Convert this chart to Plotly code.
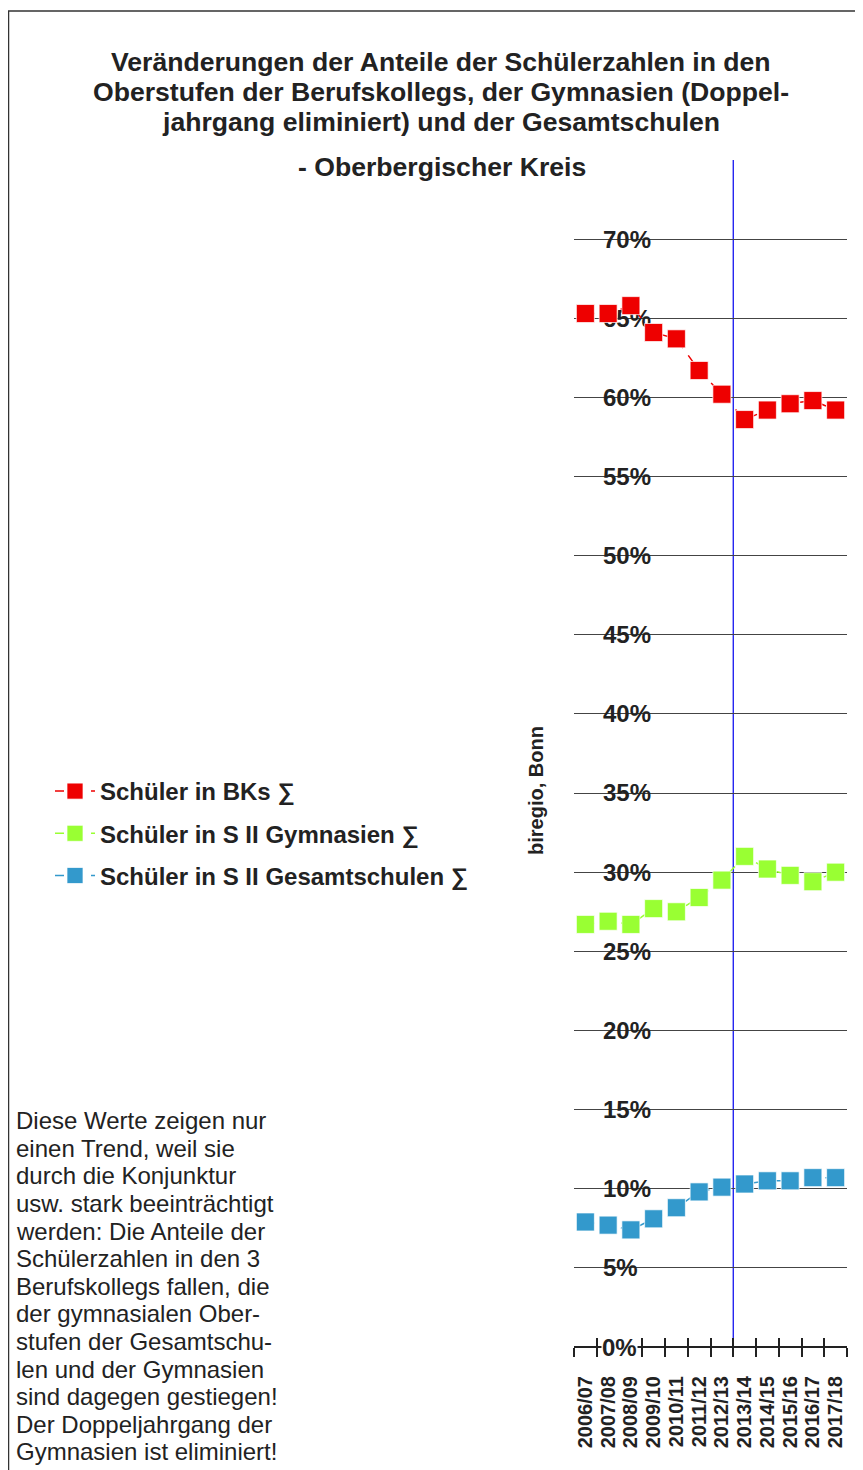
import plotly.graph_objects as go

# ---------------- data ----------------
categories = ["2006/07", "2007/08", "2008/09", "2009/10", "2010/11", "2011/12",
              "2012/13", "2013/14", "2014/15", "2015/16", "2016/17", "2017/18"]
bk_share = [65.3, 65.3, 65.8, 64.1, 63.7, 61.7, 60.2, 58.6, 59.2, 59.6, 59.8, 59.2]
gym_share = [26.7, 26.9, 26.7, 27.7, 27.5, 28.4, 29.5, 31.0, 30.2, 29.8, 29.4, 30.0]
ges_share = [7.9, 7.7, 7.4, 8.1, 8.8, 9.8, 10.1, 10.3, 10.5, 10.5, 10.7, 10.7]
series_names = ["Schüler in BKs \u2211", "Schüler in S II Gymnasien \u2211",
                "Schüler in S II Gesamtschulen \u2211"]
series_colors = ["#EE0000", "#99FF33", "#3399CC"]
y_ticks = [0, 5, 10, 15, 20, 25, 30, 35, 40, 45, 50, 55, 60, 65, 70]
y_tick_labels = [f"{v}%" for v in y_ticks]
title_lines = ["Veränderungen der Anteile der Schülerzahlen in den",
               "Oberstufen der Berufskollegs, der Gymnasien (Doppel-",
               "jahrgang eliminiert) und der Gesamtschulen"]
subtitle = "- Oberbergischer Kreis"
source_label = "biregio, Bonn"
marker_year = 6.5  # boundary between 2012/13 and 2013/14
note_lines = ["Diese Werte zeigen nur", "einen Trend, weil sie", "durch die Konjunktur",
              "usw. stark beeinträchtigt", "werden: Die Anteile der",
              "Schülerzahlen in den 3", "Berufskollegs fallen, die",
              "der gymnasialen Ober-", "stufen der Gesamtschu-", "len und der Gymnasien",
              "sind dagegen gestiegen!", "Der Doppeljahrgang der", "Gymnasien ist eliminiert!"]

# ---------------- layout geometry (page pixels) ----------------
W, H = 863, 1470
OFF = 8  # default body margin of the html page
L, R, T, B = 574, 847, 160, 1347
FONT = "Liberation Sans, Arial, sans-serif"
TXT = "#222222"
FIGSP = "\u2007"  # figure space keeps the labels left aligned


def px_x(x):
    return (x - L) / (R - L)


def px_y(y):
    return (B - y) / (B - T)


fig = go.Figure()
for name, vals, col in zip(series_names, [bk_share, gym_share, ges_share], series_colors):
    fig.add_trace(go.Scatter(
        x=categories, y=vals, name=name, mode="lines+markers",
        line=dict(color=col, width=1.5, dash="dash"),
        marker=dict(symbol="square", size=18, color=col,
                    line=dict(width=1, color="rgba(255,255,255,0.7)")),
        legendgroup=name,
    ))
# invisible trace carrying the overlay axis (inside tick marks)
fig.add_trace(go.Scatter(x=categories, y=bk_share, xaxis="x2", mode="markers",
                         marker=dict(opacity=0), showlegend=False, hoverinfo="skip"))

shapes = []
annotations = []

# padded y labels (right aligned by plotly, so pad the short ones)
max_len = max(len(s) for s in y_tick_labels)
y_text = [s + FIGSP * (max_len - len(s)) for s in y_tick_labels]

# white boxes behind y tick labels (between gridlines and traces)
for v, lab in zip(y_ticks, y_tick_labels):
    if v == 0:
        continue
    w = 13.4 * (len(lab) - 1) + 21.5
    shapes.append(dict(type="rect", layer="between", xref="paper", yref="y",
                       x0=px_x(600), x1=px_x(601 + w + 1), y0=v - 0.25, y1=v + 0.25,
                       fillcolor="white", line=dict(width=0)))

# 0% label on top of the axis
annotations.append(dict(text=y_tick_labels[0], xref="paper", yref="y", x=px_x(601), y=0,
                        xanchor="left", yanchor="middle", showarrow=False,
                        bgcolor="white", borderpad=0,
                        font=dict(family=FONT, size=24, color=TXT, weight="bold")))

# vertical blue marker line
shapes.append(dict(type="line", layer="between", xref="x", yref="paper",
                   x0=marker_year, x1=marker_year, y0=0, y1=1,
                   line=dict(color="#0000EE", width=1.2)))

# outer border
shapes.append(dict(type="rect", xref="paper", yref="paper",
                   x0=px_x(8.5), x1=px_x(890), y0=px_y(1500), y1=px_y(11),
                   line=dict(color="#333333", width=1.5), fillcolor="rgba(0,0,0,0)"))

# title lines
for i, line in enumerate(title_lines):
    annotations.append(dict(text=line, xref="paper", yref="paper", x=px_x(441),
                            y=px_y(61.7 + 30 * i), xanchor="center", yanchor="middle",
                            showarrow=False,
                            font=dict(family=FONT, size=26.6, color=TXT, weight="bold")))
annotations.append(dict(text=subtitle, xref="paper", yref="paper", x=px_x(442),
                        y=px_y(166.7), xanchor="center", yanchor="middle", showarrow=False,
                        font=dict(family=FONT, size=26.6, color=TXT, weight="bold")))

# source label
annotations.append(dict(text=source_label, xref="paper", yref="paper", x=px_x(536),
                        y=px_y(791), xanchor="center", yanchor="middle", textangle=-90,
                        showarrow=False,
                        font=dict(family=FONT, size=20, color=TXT, weight="bold")))

# note text
for i, line in enumerate(note_lines):
    annotations.append(dict(text=line, xref="paper", yref="paper", x=px_x(14),
                            y=px_y(1120.7 + 27.6 * i), xanchor="left", yanchor="middle",
                            showarrow=False,
                            font=dict(family=FONT, size=24, color=TXT)))

fig.update_layout(
    width=W - OFF, height=H - OFF,
    margin=dict(l=L - OFF, r=W - R, t=T - OFF, b=H - B, pad=0),
    paper_bgcolor="white", plot_bgcolor="white",
    showlegend=True,
    legend=dict(x=px_x(50), y=px_y(769), xanchor="left", yanchor="top",
                itemwidth=40,
                font=dict(family=FONT, size=24, color=TXT, weight="bold"),
                tracegroupgap=8, bgcolor="rgba(0,0,0,0)"),
    xaxis=dict(type="category", categoryorder="array", categoryarray=categories,
               range=[-0.5, 11.5], tickmode="linear", tick0=0, dtick=1,
               tickson="boundaries", ticks="outside", ticklen=9,
               tickwidth=2, tickcolor=TXT, tickangle=-90, showgrid=False, showline=False,
               zeroline=False, layer="below traces", ticklabelstandoff=24,
               tickfont=dict(family=FONT, size=20, color=TXT, weight="bold")),
    xaxis2=dict(type="category", categoryorder="array", categoryarray=categories,
                overlaying="x", anchor="y", side="bottom",
                range=[-0.5, 11.5], tickmode="linear", tick0=0, dtick=1,
                tickson="boundaries", ticks="inside", ticklen=9,
                tickwidth=2, tickcolor=TXT, showticklabels=False, showgrid=False,
                showline=False, zeroline=False, layer="below traces"),
    yaxis=dict(range=[0, 75], tickmode="array", tickvals=y_ticks[1:],
               ticktext=y_text[1:], ticks="", ticklabelposition="outside",
               ticklabelstandoff=-78, showgrid=True, gridcolor="#444444",
               gridwidth=1.3, zeroline=True, zerolinecolor=TXT, zerolinewidth=2,
               showline=False, layer="below traces",
               tickfont=dict(family=FONT, size=24, color=TXT, weight="bold")),
    shapes=shapes, annotations=annotations,
)

fig.write_html("out.html")
